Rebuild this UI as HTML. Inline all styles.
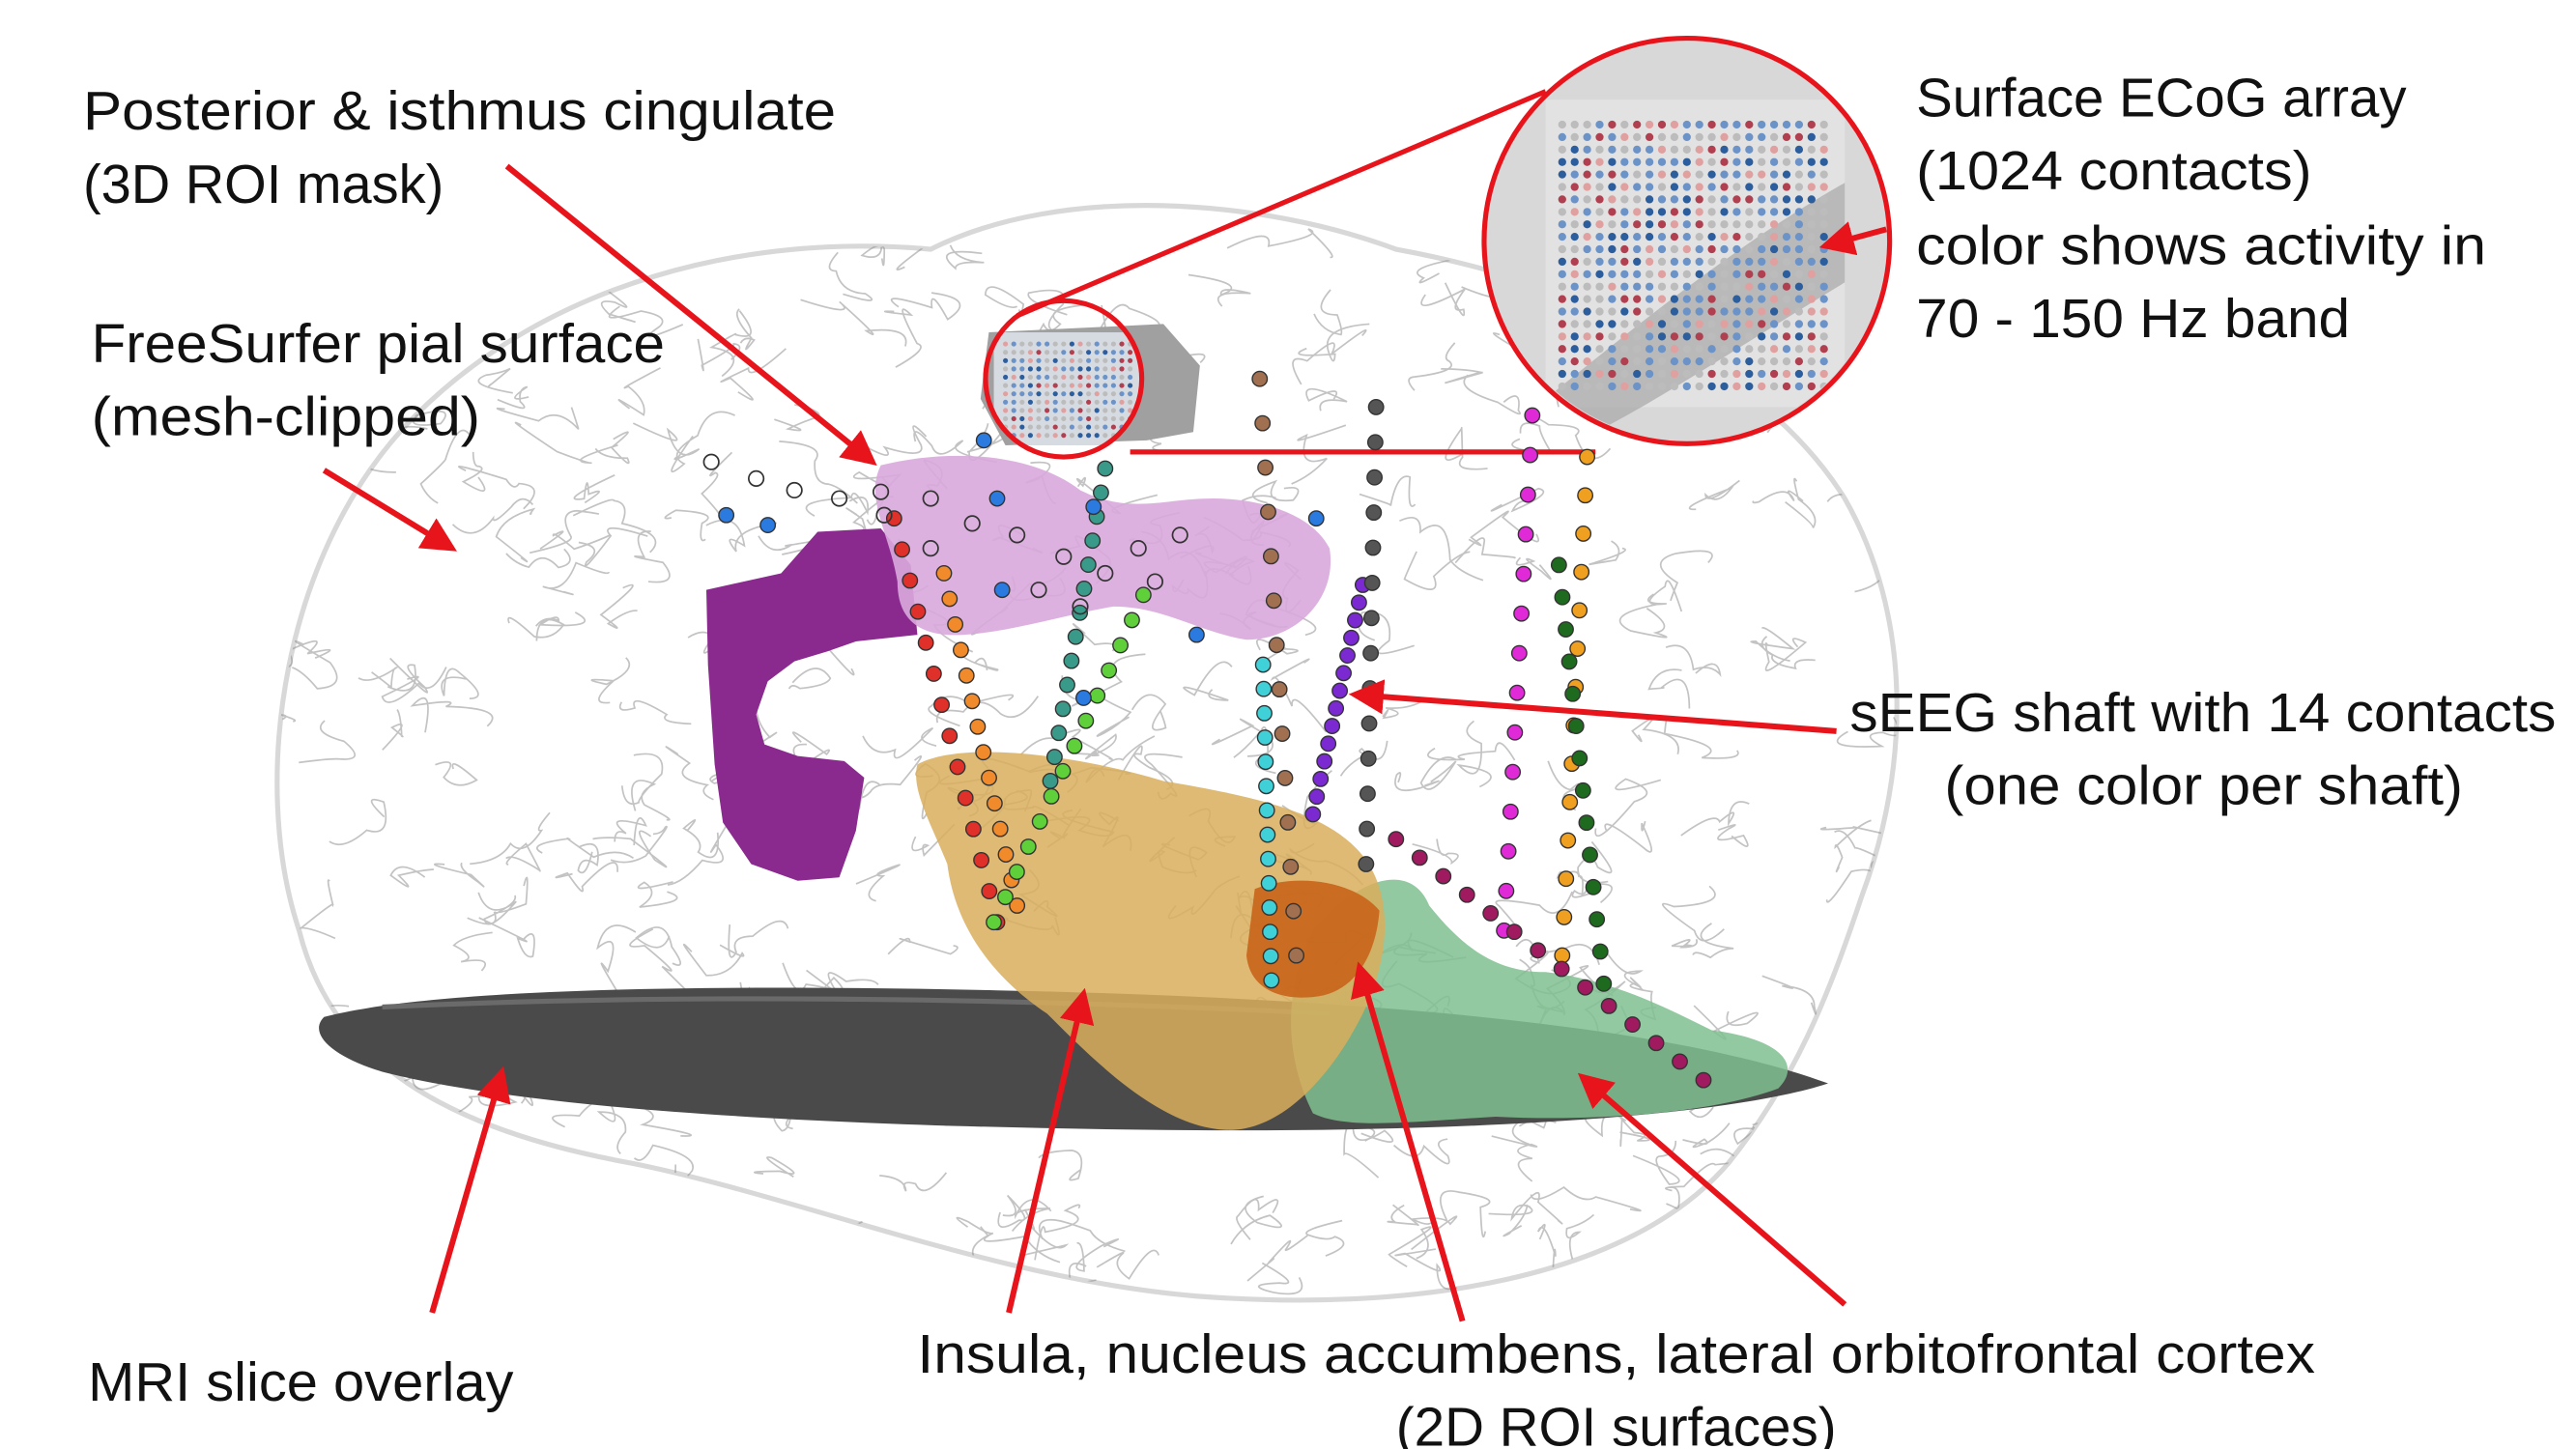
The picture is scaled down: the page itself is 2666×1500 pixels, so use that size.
<!DOCTYPE html>
<html><head><meta charset="utf-8">
<style>
html,body{margin:0;padding:0;background:#fff;}
svg{display:block;}
text{font-family:"Liberation Sans",sans-serif;fill:#111;font-size:33px;}
</style></head>
<body>
<svg id="s" width="2666" height="1500" viewBox="0 0 1550 872" preserveAspectRatio="none" xmlns="http://www.w3.org/2000/svg">
<defs>
<marker id="ah" markerWidth="6" markerHeight="6" refX="5" refY="3" orient="auto" markerUnits="strokeWidth">
<path d="M0,0 L6,3 L0,6 Z" fill="#e8141b"/></marker>
<clipPath id="bc"><circle cx="1015" cy="145" r="120"/></clipPath>
<clipPath id="sc"><circle cx="640" cy="228" r="46"/></clipPath>
<clipPath id="brain"><path d="M180,560 C150,470 170,330 250,250 C330,170 450,140 560,150 C640,110 760,120 840,150 C950,170 1060,220 1110,300 C1150,370 1150,460 1120,540 C1100,600 1080,650 1040,700 C980,770 850,790 720,780 C600,770 480,720 380,700 C270,680 200,640 180,560 Z"/></clipPath>
</defs>
<!-- brain outline -->
<path d="M180,560 C150,470 170,330 250,250 C330,170 450,140 560,150 C640,110 760,120 840,150 C950,170 1060,220 1110,300 C1150,370 1150,460 1120,540 C1100,600 1080,650 1040,700 C980,770 850,790 720,780 C600,770 480,720 380,700 C270,680 200,640 180,560 Z" fill="#fff" stroke="#d8d8d8" stroke-width="3"/>
<g id="sq" stroke="#888" stroke-width="1" fill="none" opacity="0.5" clip-path="url(#brain)"></g>
<!-- MRI slice -->
<path d="M195,612 C260,595 420,592 600,596 C800,600 1000,615 1100,652 C1040,672 880,682 700,680 C500,678 320,668 230,645 C200,636 185,622 195,612 Z" fill="#4a4a4a"/>
<path d="M230,606 C400,598 600,600 800,610" stroke="#6a6a6a" stroke-width="3" fill="none"/>
<!-- green OFC -->
<path d="M790,560 C820,525 850,520 860,545 C880,570 900,585 930,585 C970,590 1000,605 1030,620 C1070,625 1085,640 1070,655 C1030,670 960,675 900,672 C850,675 810,680 790,670 C775,640 770,600 790,560 Z" fill="#7fbf8f" opacity="0.85"/>
<!-- insula -->
<path d="M552,460 C580,445 650,455 700,470 C760,480 800,490 820,515 C840,540 835,580 820,610 C800,650 770,680 740,680 C700,680 660,640 630,610 C600,590 575,560 570,520 C560,495 548,475 552,460 Z" fill="#d9ae5c" opacity="0.85"/>
<!-- accumbens -->
<path d="M755,535 C780,525 815,530 830,548 C828,575 815,598 790,600 C770,602 752,595 750,575 Z" fill="#c8641a" opacity="0.9"/>
<!-- purple ROI -->
<path d="M425,355 L470,345 L492,320 L530,318 L548,340 L552,382 L515,386 L498,392 L478,398 L462,410 L455,430 L460,448 L480,455 L508,458 L520,468 L515,500 L505,528 L480,530 L452,520 L435,495 L430,460 L428,430 L426,400 Z" fill="#8a2a8e"/>
<!-- pink ROI -->
<path d="M530,280 C570,270 620,272 650,295 C680,310 700,300 730,300 C760,300 790,310 800,330 C805,360 780,385 750,385 C720,380 700,365 670,365 C640,370 610,380 580,382 C550,384 540,370 540,350 C535,320 520,300 530,280 Z" fill="#d9a8dc" opacity="0.9"/>
<!-- small ECoG patch -->
<path d="M595,200 L700,195 L722,220 L718,260 L690,265 L605,268 L590,240 Z" fill="#a0a0a0"/>
<g clip-path="url(#sc)"><rect x="598" y="200" width="90" height="68" fill="#d6dbe2"/><g id="sec"></g></g>
<circle cx="640" cy="228" r="47" fill="none" stroke="#e8141b" stroke-width="3"/>
<line x1="612" y1="190" x2="930" y2="55" stroke="#e8141b" stroke-width="3"/>
<line x1="680" y1="272" x2="960" y2="272" stroke="#e8141b" stroke-width="3"/>
<!-- big circle -->
<circle cx="1015" cy="145" r="122" fill="#d8d8d8"/>
<g clip-path="url(#bc)">
<rect x="930" y="60" width="180" height="185" fill="#e2e2e2"/>
<path d="M930,240 C980,200 1040,150 1110,110 L1110,170 C1060,200 1000,240 960,260 Z" fill="#a8a8a8" opacity="0.7"/>
<path d="M1030,20 C1060,30 1090,50 1140,60 L1140,0 L1030,0 Z" fill="#777"/>
<g id="ec"></g>
</g>
<circle cx="1015" cy="145" r="122" fill="none" stroke="#e8141b" stroke-width="3"/>
<g id="dots"></g>
<!-- arrows -->
<g stroke="#e8141b" stroke-width="3.5" fill="none" marker-end="url(#ah)">
<line x1="305" y1="100" x2="525" y2="278"/>
<line x1="195" y1="283" x2="272" y2="330"/>
<line x1="1135" y1="138" x2="1098" y2="148"/>
<line x1="1105" y1="440" x2="815" y2="418"/>
<line x1="260" y1="790" x2="302" y2="645"/>
<line x1="607" y1="790" x2="652" y2="598"/>
<line x1="880" y1="795" x2="818" y2="582"/>
<line x1="1110" y1="785" x2="952" y2="648"/>
</g>
<g lengthAdjust="spacingAndGlyphs">
<text x="50" y="78" textLength="453" lengthAdjust="spacingAndGlyphs">Posterior &amp; isthmus cingulate</text>
<text x="50" y="122" textLength="217" lengthAdjust="spacingAndGlyphs">(3D ROI mask)</text>
<text x="55" y="218" textLength="345" lengthAdjust="spacingAndGlyphs">FreeSurfer pial surface</text>
<text x="55" y="262" textLength="234" lengthAdjust="spacingAndGlyphs">(mesh-clipped)</text>
<text x="1153" y="70" textLength="295" lengthAdjust="spacingAndGlyphs">Surface ECoG array</text>
<text x="1153" y="114" textLength="238" lengthAdjust="spacingAndGlyphs">(1024 contacts)</text>
<text x="1153" y="159" textLength="343" lengthAdjust="spacingAndGlyphs">color shows activity in</text>
<text x="1153" y="203" textLength="261" lengthAdjust="spacingAndGlyphs">70 - 150 Hz band</text>
<text x="1113" y="440" textLength="425" lengthAdjust="spacingAndGlyphs">sEEG shaft with 14 contacts</text>
<text x="1170" y="484" textLength="312" lengthAdjust="spacingAndGlyphs">(one color per shaft)</text>
<text x="53" y="843" textLength="256" lengthAdjust="spacingAndGlyphs">MRI slice overlay</text>
<text x="552" y="826" textLength="841" lengthAdjust="spacingAndGlyphs">Insula, nucleus accumbens, lateral orbitofrontal cortex</text>
<text x="840" y="870" textLength="265" lengthAdjust="spacingAndGlyphs">(2D ROI surfaces)</text>
</g>
</svg>
<script>
var NS="http://www.w3.org/2000/svg";
function el(p,t,a){var e=document.createElementNS(NS,t);for(var k in a)e.setAttribute(k,a[k]);p.appendChild(e);return e;}
var seed=7;function r(){seed=(seed*9301+49297)%233280;return seed/233280;}
var sq=document.getElementById("sq");
for(var i=0;i<420;i++){var x=170+r()*960,y=140+r()*650;var d="M"+x.toFixed(1)+","+y.toFixed(1);for(var j=0;j<3;j++){var cx=x+(r()-0.5)*40,cy=y+(r()-0.5)*30;x+=(r()-0.5)*50;y+=(r()-0.5)*35;d+=" Q"+cx.toFixed(1)+","+cy.toFixed(1)+" "+x.toFixed(1)+","+y.toFixed(1);}el(sq,"path",{d:d});}
function col(v){return v<0.3?"#6b93c8":v<0.45?"#2c5d9c":v<0.6?"#e0a0a0":v<0.7?"#b04050":"#bcbcbc";}
var ec=document.getElementById("ec");
for(var gx=0;gx<22;gx++)for(var gy=0;gy<22;gy++){el(ec,"circle",{cx:940+gx*7.5,cy:75+gy*7.5,r:2.4,fill:col(r())});}
var sec=document.getElementById("sec");
for(var gx=0;gx<16;gx++)for(var gy=0;gy<12;gy++){el(sec,"circle",{cx:605+gx*5,cy:207+gy*5,r:1.5,fill:col(r())});}
var dots=document.getElementById("dots");
function shaft(x1,y1,x2,y2,c,n){n=n||14;for(var i=0;i<n;i++){var t=i/(n-1);el(dots,"circle",{cx:x1+(x2-x1)*t,cy:y1+(y2-y1)*t,r:4.5,fill:c,stroke:"#333","stroke-width":0.8});}}
shaft(538,312,600,555,"#e0302a");
shaft(568,345,612,545,"#f08a2a");
shaft(688,358,598,555,"#5fcf3a");
shaft(665,282,632,470,"#3a9a8a");
shaft(760,400,765,590,"#3fd0d8");
shaft(820,352,790,490,"#7a2ad0");
shaft(828,245,822,520,"#555555");
shaft(758,228,780,575,"#a07050");
shaft(922,250,905,560,"#e02ad8");
shaft(955,275,940,575,"#f0a020");
shaft(938,340,965,592,"#1e6a1e");
shaft(840,505,1025,650,"#a01a60");
var blue=[[437,310],[462,316],[592,265],[603,355],[658,305],[720,382],[792,312],[652,420],[600,300]];
blue.forEach(function(p){el(dots,"circle",{cx:p[0],cy:p[1],r:4.5,fill:"#2a7ae0",stroke:"#333","stroke-width":0.8});});
var hol=[[428,278],[455,288],[478,295],[505,300],[532,310],[560,300],[585,315],[612,322],[640,335],[665,345],[695,350],[625,355],[650,365],[685,330],[710,322],[530,296],[560,330]];
hol.forEach(function(p){el(dots,"circle",{cx:p[0],cy:p[1],r:4.5,fill:"none",stroke:"#333","stroke-width":1});});
</script>
</body></html>
